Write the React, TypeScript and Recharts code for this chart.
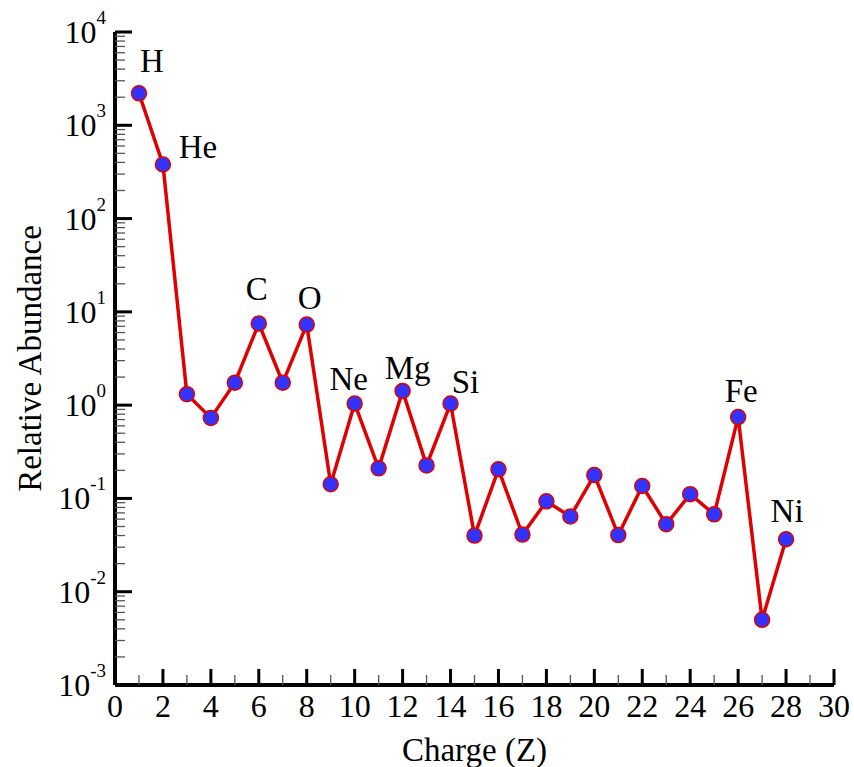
import React from "react";
import { LineChart, Line, XAxis, YAxis, LabelList } from "recharts";

// atomic number Z
const charges = [1, 2, 3, 4, 5, 6, 7, 8, 9, 10, 11, 12, 13, 14, 15, 16, 17, 18, 19, 20, 21, 22, 23, 24, 25, 26, 27, 28];
// relative abundance (Si = 1 roughly)
const abundance = [
  2200, 380, 1.31, 0.73, 1.74, 7.5, 1.74, 7.3, 0.142, 1.04, 0.21, 1.42, 0.226, 1.04,
  0.04, 0.205, 0.041, 0.093, 0.064, 0.178, 0.0405, 0.136, 0.053, 0.111, 0.0676, 0.745, 0.005, 0.0365,
];
const symbols: Record<number, string> = {
  1: "H", 2: "He", 6: "C", 8: "O", 10: "Ne", 12: "Mg", 14: "Si", 26: "Fe", 28: "Ni",
};

const xTicks = Array.from({ length: 31 }, (_, i) => i);
const decades = [-3, -2, -1, 0, 1, 2, 3, 4];
const yTicks: number[] = [];
decades.forEach((d) => {
  yTicks.push(Math.pow(10, d));
  if (d < 4) for (let m = 2; m <= 9; m++) yTicks.push(m * Math.pow(10, d));
});

const data = charges.map((z, i) => ({ z, v: abundance[i], sym: symbols[z] || "" }));

const FONT = "'Liberation Serif', 'Times New Roman', serif";

// label placement relative to the point: [dx, dy]
const labelOffset: Record<string, [number, number]> = {
  H: [13, -21],
  He: [35, -6],
  C: [-2, -24],
  O: [3, -16],
  Ne: [-6, -14],
  Mg: [5, -12],
  Si: [15, -11],
  Fe: [3, -15],
  Ni: [1, -17],
};

const YTick = (props: any) => {
  const { x, y, payload } = props;
  const lg = Math.log10(payload.value);
  const major = Math.abs(lg - Math.round(lg)) < 1e-6;
  return (
    <g>
      <line
        x1={x}
        y1={y}
        x2={x + (major ? 17 : 10)}
        y2={y}
        stroke={major ? "#000" : "#555"}
        strokeWidth={major ? 3 : 1.3}
      />
      {major && (
        <text x={x - 9} y={y + 11} textAnchor="end" fontFamily={FONT} fontSize={32} fill="#000">
          10
          <tspan dy={-19} fontSize={19}>
            {Math.round(lg)}
          </tspan>
        </text>
      )}
    </g>
  );
};

const XTick = (props: any) => {
  const { x, y, payload } = props;
  const major = payload.value % 2 === 0;
  return (
    <g>
      <line
        x1={x}
        y1={y}
        x2={x}
        y2={y - (major ? 16 : 10)}
        stroke={major ? "#000" : "#555"}
        strokeWidth={major ? 3 : 1.3}
      />
      {major && (
        <text x={x} y={y + 32} textAnchor="middle" fontFamily={FONT} fontSize={32} fill="#000">
          {payload.value}
        </text>
      )}
    </g>
  );
};

const YTitle = (props: any) => {
  const vb = props.viewBox || { x: 0, y: 32, width: 115, height: 653 };
  const cx = vb.x + 41;
  const cy = vb.y + vb.height / 2;
  return (
    <text
      x={cx}
      y={cy}
      transform={`rotate(-90 ${cx} ${cy})`}
      textAnchor="middle"
      fontFamily={FONT}
      fontSize={33}
      fill="#000"
    >
      Relative Abundance
    </text>
  );
};

const ElementLabel = (props: any) => {
  const { value } = props;
  if (!value) return null;
  const x = props.x ?? props.viewBox?.x;
  const y = props.y ?? props.viewBox?.y;
  const [dx, dy] = labelOffset[value] || [0, -15];
  return (
    <text x={x + dx} y={y + dy} textAnchor="middle" fontFamily={FONT} fontSize={33} fill="#000">
      {value}
    </text>
  );
};

export default function App() {
  return (
    <div style={{ position: "absolute", left: 0, top: 0, background: "#fff" }}>
      <LineChart width={854} height={767} data={data} margin={{ top: 32, right: 20, bottom: 0, left: 0 }}>
        <XAxis
          dataKey="z"
          type="number"
          domain={[0, 30]}
          ticks={xTicks}
          interval={0}
          tickSize={0}
          tickMargin={0}
          height={82}
          axisLine={{ stroke: "#000", strokeWidth: 4 }}
          tickLine={false}
          tick={<XTick />}
          label={{
            value: "Charge (Z)",
            position: "insideBottom",
            offset: 6,
            style: { fontFamily: FONT, fontSize: 33, fill: "#000" },
          }}
        />
        <YAxis
          dataKey="v"
          type="number"
          scale="log"
          domain={[0.001, 10000]}
          allowDataOverflow
          ticks={yTicks}
          interval={0}
          tickSize={0}
          tickMargin={0}
          width={115}
          axisLine={{ stroke: "#000", strokeWidth: 4 }}
          tickLine={false}
          tick={<YTick />}
          label={{ content: <YTitle /> }}
        />
        <Line
          dataKey="v"
          stroke="#E00000"
          strokeWidth={3.5}
          isAnimationActive={false}
          dot={{ r: 7.5, fill: "#3333FF", stroke: "#E00000", strokeWidth: 1.5 }}
          activeDot={false}
        >
          <LabelList dataKey="sym" content={<ElementLabel />} />
        </Line>
      </LineChart>
    </div>
  );
}
